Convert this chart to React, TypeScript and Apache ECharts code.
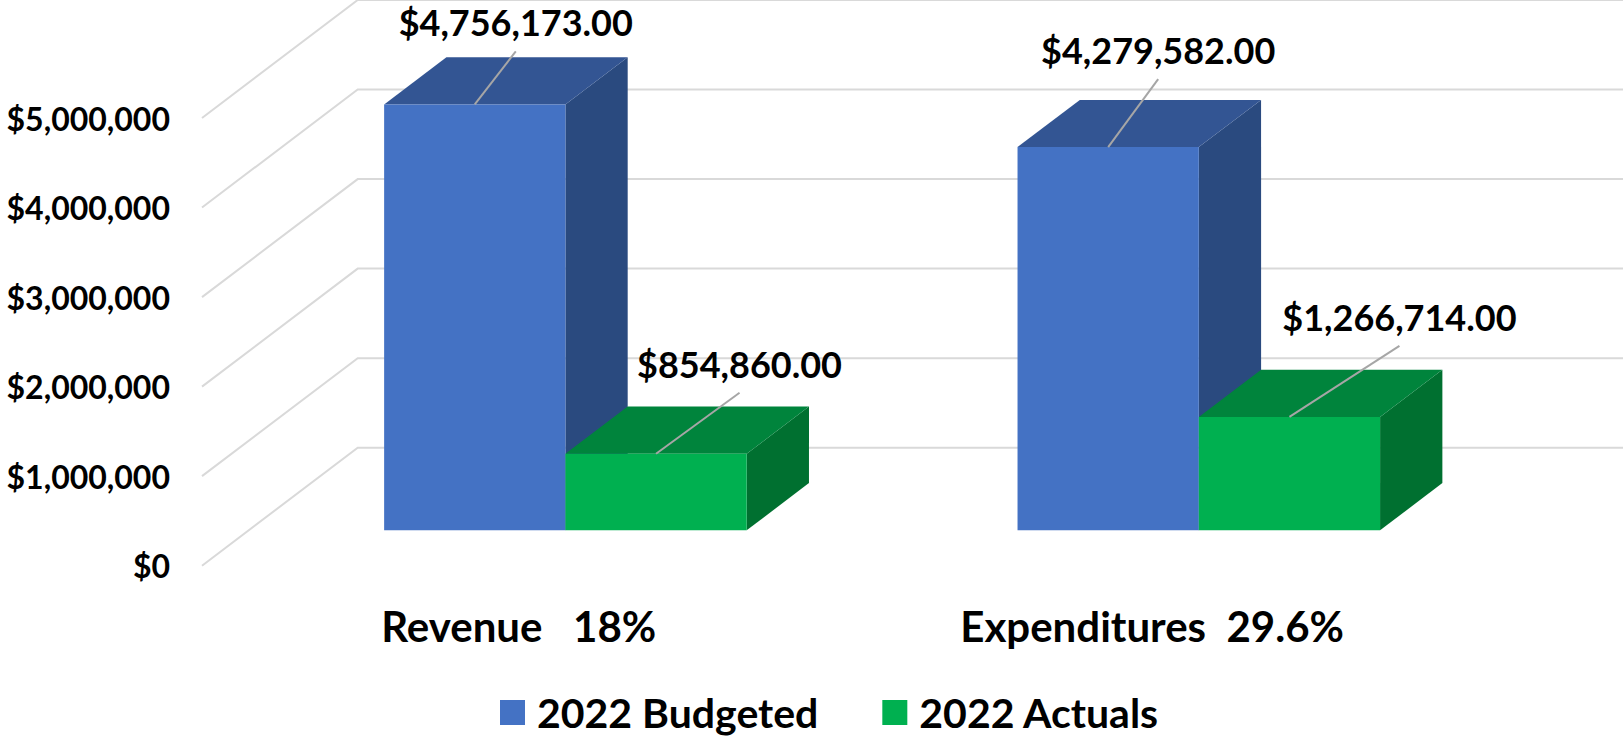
import React, { useEffect, useRef } from "react";
import * as echarts from "echarts";

const categories = ["Revenue   18%", "Expenditures  29.6%"];
const budgeted = [4756173, 4279582];
const actuals = [854860, 1266714];
const wallTicks = [0, 1000000, 2000000, 3000000, 4000000, 5000000];
const seriesNames = ["2022 Budgeted", "2022 Actuals"];

// layout of the fake 3D box, in pixels
const WALL_DX = 155.7;
const WALL_DY = 118;
const BAR_START = 0.3; // fraction of wall depth in front of bars
const BAR_DEPTH = 0.4;
const BAR_WIDTH_RATIO = 0.2862;
const FONT = "Lato, Carlito, sans-serif";

// leader-line end relative to the centre of the bar's top front edge
const budgetedLeaders = [[41, -53], [50, -68]];
const actualsLeaders = [[83.5, -61], [110, -71]];

const money = (v: number, d: number) =>
  "$" + v.toLocaleString("en-US", { minimumFractionDigits: d, maximumFractionDigits: d });

function barRenderer(slot: number, front: string, top: string, side: string, leaders: number[][]) {
  return (_params: any, api: any) => {
    const i = api.value(0);
    const v = api.value(1);
    const catW = api.size([1, 0])[0];
    const w = catW * BAR_WIDTH_RATIO;
    const ox = WALL_DX * BAR_START;
    const oy = -WALL_DY * BAR_START;
    const ddx = WALL_DX * BAR_DEPTH;
    const ddy = -WALL_DY * BAR_DEPTH;
    const pTop = api.coord([i, v]);
    const pBase = api.coord([i, 0]);
    const x0 = pTop[0] + ox + (slot - 1) * w;
    const x1 = x0 + w;
    const yT = pTop[1] + oy;
    const yB = pBase[1] + oy;
    const cx = (x0 + x1) / 2;
    const [lx, ly] = leaders[i];
    return {
      type: "group",
      children: [
        {
          type: "polygon",
          shape: { points: [[x1, yT], [x1 + ddx, yT + ddy], [x1 + ddx, yB + ddy], [x1, yB]] },
          style: { fill: side },
        },
        {
          type: "polygon",
          shape: { points: [[x0, yT], [x0 + ddx, yT + ddy], [x1 + ddx, yT + ddy], [x1, yT]] },
          style: { fill: top },
        },
        {
          type: "rect",
          shape: { x: x0, y: yT, width: w, height: yB - yT },
          style: { fill: front },
        },
        {
          type: "line",
          shape: { x1: cx, y1: yT, x2: cx + lx, y2: yT + ly },
          style: { stroke: "#a6a6a6", lineWidth: 2 },
        },
        {
          type: "text",
          style: {
            x: cx + lx,
            y: yT + ly - 29,
            text: money(v, 2),
            textAlign: "center",
            textVerticalAlign: "middle",
            fontFamily: FONT,
            fontSize: 36,
            fontWeight: 700,
            fill: "#000000",
          },
        },
      ],
    };
  };
}

function wallRenderer(params: any, api: any) {
  const v = api.value(0);
  const p = api.coord([0, v]);
  const x = params.coordSys.x;
  const right = params.coordSys.x + params.coordSys.width + WALL_DX;
  return {
    type: "polyline",
    shape: { points: [[x, p[1]], [x + WALL_DX, p[1] - WALL_DY], [right, p[1] - WALL_DY]] },
    style: { stroke: "#d9d9d9", lineWidth: 2, fill: "none" },
  };
}

export default function App() {
  const ref = useRef<HTMLDivElement>(null);
  useEffect(() => {
    document.body.style.margin = "0";
    const chart = echarts.init(ref.current!, null, { renderer: "svg" });
    chart.setOption({
      animation: false,
      backgroundColor: "#ffffff",
      grid: { left: 202, top: 118, width: 1266.8, height: 447.7 },
      xAxis: {
        type: "category",
        data: categories,
        axisLine: { show: false },
        axisTick: { show: false },
        axisLabel: { fontFamily: FONT, fontSize: 42, fontWeight: 700, color: "#000", margin: 39 },
      },
      yAxis: {
        type: "value",
        min: 0,
        max: 5000000,
        interval: 1000000,
        axisLine: { show: false },
        axisTick: { show: false },
        splitLine: { show: false },
        axisLabel: {
          fontFamily: FONT,
          fontSize: 32,
          fontWeight: 700,
          color: "#000",
          margin: 32,
          formatter: (v: number) => money(v, 0),
        },
      },
      legend: {
        data: seriesNames,
        left: 500,
        top: 692,
        padding: 0,
        itemWidth: 25,
        itemHeight: 25,
        itemGap: 64,
        icon: "rect",
        textStyle: { fontFamily: FONT, fontSize: 41, fontWeight: 700, color: "#000", padding: [0, 0, 0, 7] },
      },
      series: [
        {
          type: "custom",
          name: "wall",
          renderItem: wallRenderer,
          data: wallTicks.map((t) => [t]),
          encode: { y: 0 },
          silent: true,
          z: 1,
        },
        {
          type: "custom",
          name: seriesNames[0],
          renderItem: barRenderer(0, "#4472C4", "#335593", "#2A4A7F", budgetedLeaders),
          data: budgeted.map((v, i) => [i, v]),
          encode: { x: 0, y: 1 },
          itemStyle: { color: "#4472C4" },
          z: 2,
        },
        {
          type: "custom",
          name: seriesNames[1],
          renderItem: barRenderer(1, "#00B050", "#00843C", "#007030", actualsLeaders),
          data: actuals.map((v, i) => [i, v]),
          encode: { x: 0, y: 1 },
          itemStyle: { color: "#00B050" },
          z: 3,
        },
      ],
    });
    return () => chart.dispose();
  }, []);
  return <div ref={ref} style={{ width: 1623, height: 738 }} />;
}
